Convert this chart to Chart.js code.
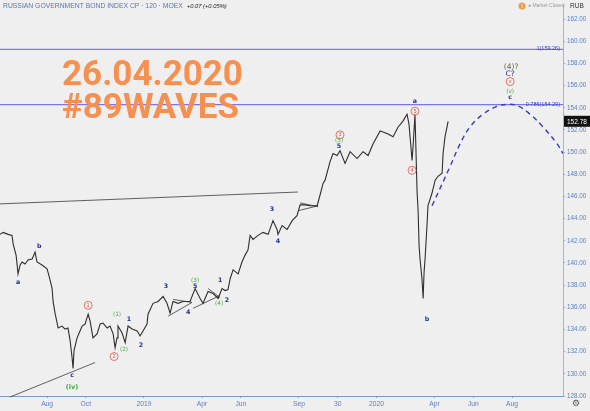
<!DOCTYPE html>
<html>
<head>
<meta charset="utf-8">
<script src="https://cdn.jsdelivr.net/npm/chart.js@4.4.1/dist/chart.umd.min.js"></script>
<style>
  html, body { margin: 0; padding: 0; background: #efeff0; }
  canvas { display: block; }
</style>
</head>
<body>
<canvas id="bondChart" width="590" height="411"></canvas>
<script>
// months counted from Aug 2018 (bar-time, as on the chart)
const months = [
  -2.43,-2.27,-2.01,-1.81,-1.75,-1.60,-1.55,-1.50,-1.39,-1.29,
  -1.14,-0.98,-0.77,-0.62,-0.52,-0.26,0,0.15,0.26,0.31,
  0.41,0.52,0.57,0.77,0.93,1.08,1.19,1.29,1.34,1.39,
  1.55,1.70,1.81,1.96,2.12,2.22,2.37,2.58,2.74,2.89,
  3.10,3.25,3.41,3.51,3.61,3.66,3.87,4.03,4.18,4.39,
  4.65,4.80,4.95,5.16,5.21,5.47,5.73,5.99,6.19,6.35,
  6.50,6.76,7.02,7.38,7.64,7.90,8.05,8.31,8.57,8.83,
  9.03,9.19,9.34,9.45,9.60,9.86,10.06,10.22,10.37,10.48,
  10.63,10.89,11.15,11.41,11.66,11.87,11.92,12.13,12.39,12.65,
  12.90,13.06,13.32,13.57,13.94,14.09,14.25,14.35,14.61,14.76,
  14.97,15.12,15.38,15.64,16.00,16.31,16.57,16.83,17.19,17.34,
  17.60,17.86,18.12,18.37,18.58,18.68,18.84,18.89,18.99,19.10,
  19.15,19.20,19.25,19.35,19.41,19.46,19.51,19.61,19.66,19.87,
  20.03,20.18,20.39,20.44,20.54,20.70
];
const prices = [
  142.58,142.76,142.58,142.49,141.69,140.71,139.91,139.02,139.82,140.09,
  139.91,140.27,140.36,140.98,140.09,139.82,139.47,138.49,137.69,136.53,
  135.47,134.58,134.13,134.31,134.04,134.13,132.98,131.47,130.49,132.09,
  133.24,133.87,134.31,134.49,135.38,134.76,133.24,133.60,134.49,134.58,
  134.13,134.31,133.60,132.36,133.24,134.31,133.69,132.80,134.31,134.04,
  133.87,133.42,133.87,134.49,135.38,136.36,136.53,136.98,136.36,135.47,
  136.53,136.36,136.53,136.53,137.69,136.80,136.36,137.42,137.24,136.80,
  137.69,137.51,137.60,138.58,139.38,139.02,140.09,140.71,141.16,142.49,
  142.13,142.49,142.76,142.58,143.82,143.02,142.58,143.38,143.02,143.82,
  144.27,145.24,145.24,145.16,145.16,146.13,147.20,147.47,149.16,149.87,
  149.69,150.13,148.98,150.04,149.42,150.04,149.69,150.76,151.91,151.82,
  151.64,151.38,152.27,152.80,153.42,152.53,149.24,150.49,153.40,146.31,
  144.80,141.60,140.36,138.58,136.80,139.20,140.36,143.38,145.16,146.31,
  147.47,147.82,148.09,149.87,151.38,152.78
];
const lastPrice = 152.78;

// projected path (dashed)
const projMonths = [19.87,20.8,21.32,21.83,22.5,23.23,23.74,24.26,24.93,25.6,26.32,26.63];
const projPrices = [145.16,148.7,150.76,152.27,153.42,154.13,154.3,154.2,153.42,152.27,150.76,149.87];

// fib levels
const fibLevels = [159.26, 154.29];
const fibLabels = ['1(159.26)', '0.786(154.29)'];

// axis ticks
const tickMonths = [0, 2, 5, 8, 10, 13, 15, 17, 20, 22, 24];
const tickLabels = ['Aug', 'Oct', '2019', 'Apr', 'Jun', 'Sep', '30', '2020', 'Apr', 'Jun', 'Aug'];
const priceTicks = [128,130,132,134,136,138,140,142,144,146,148,150,152,154,156,158,160,162];

// drawn trend lines: [m1, p1, m2, p2]
const trendLines = [
  [-2.43, 145.33, 12.95, 146.40],
  [-1.91, 127.91, 2.48, 131.02],
  [6.25, 135.20, 7.48, 136.44],
  [6.50, 136.71, 7.48, 136.44],
  [7.54, 135.91, 8.93, 137.07],
  [8.31, 137.69, 8.93, 136.89],
  [12.95, 144.71, 13.99, 145.16],
  [13.06, 145.42, 13.99, 145.07]
];

// wave labels: [text, month, price, kind]
const waveLabels = [
  ['a', -1.50, 138.22, 'n'], ['b', -0.41, 141.51, 'n'], ['c', 1.29, 129.87, 'n'],
  ['(iv)', 1.29, 128.80, 'g'],
  ['1', 2.12, 136.18, 'r'], ['2', 3.46, 131.56, 'r'],
  ['(1)', 3.61, 135.38, 'g'], ['(2)', 3.97, 132.18, 'g'],
  ['1', 4.23, 134.93, 'n'], ['2', 4.85, 132.53, 'n'], ['3', 6.14, 137.87, 'n'],
  ['4', 7.28, 135.56, 'n'], ['(3)', 7.64, 138.40, 'g'], ['5', 7.64, 137.87, 'n'],
  ['1', 8.93, 138.40, 'n'], ['(4)', 8.88, 136.36, 'g'], ['2', 9.29, 136.62, 'n'],
  ['3', 11.61, 144.80, 'n'], ['4', 11.92, 141.96, 'n'],
  ['3', 15.12, 151.56, 'r'], ['(5)', 15.07, 151.02, 'g'], ['5', 15.07, 150.49, 'n'],
  ['a', 18.99, 154.58, 'n'], ['5', 18.99, 153.69, 'r'], ['4', 18.84, 148.36, 'r'],
  ['b', 19.61, 134.93, 'n'],
  ['(4)?', 23.95, 157.69, 'o'], ['C?', 23.9, 157.07, 'n'], ['v', 23.9, 156.36, 'r'],
  ['(v)', 23.9, 155.47, 'g'], ['c', 23.9, 154.93, 'n']
];

const axisBlue = '#5b7dbf';
const labelColors = { n: '#25308f', g: '#3fae3a', r: '#e0524a', o: '#5c6b3c' };

const overlay = {
  id: 'overlay',
  beforeDatasetsDraw(chart) {
    const { ctx, chartArea: a, scales: { x, y } } = chart;
    ctx.save();
    // fib lines
    ctx.strokeStyle = 'rgb(120, 120, 235)';
    ctx.lineWidth = 1.2;
    fibLevels.forEach((lv) => {
      const py = y.getPixelForValue(lv);
      ctx.beginPath();
      ctx.moveTo(a.left, py);
      ctx.lineTo(a.right, py);
      ctx.stroke();
    });
    // trend lines
    ctx.strokeStyle = '#3a3a3a';
    ctx.lineWidth = 0.8;
    trendLines.forEach((t) => {
      ctx.beginPath();
      ctx.moveTo(x.getPixelForValue(t[0]), y.getPixelForValue(t[1]));
      ctx.lineTo(x.getPixelForValue(t[2]), y.getPixelForValue(t[3]));
      ctx.stroke();
    });
    ctx.restore();
  },
  afterDatasetsDraw(chart) {
    const { ctx, chartArea: a, scales: { x, y } } = chart;
    ctx.save();

    // fib labels
    ctx.font = '5.5px "Liberation Sans", sans-serif';
    ctx.fillStyle = '#3b3bb0';
    ctx.textAlign = 'right';
    ctx.textBaseline = 'middle';
    fibLevels.forEach((lv, i) => {
      ctx.fillText(fibLabels[i], a.right - 3, y.getPixelForValue(lv) - 0.5);
    });

    // wave labels
    ctx.textAlign = 'center';
    waveLabels.forEach(([txt, m, p, kind]) => {
      const px = x.getPixelForValue(m);
      const py = y.getPixelForValue(p);
      ctx.fillStyle = labelColors[kind];
      if (kind === 'r') {
        ctx.strokeStyle = labelColors.r;
        ctx.lineWidth = 0.8;
        ctx.beginPath();
        ctx.arc(px, py, 4, 0, Math.PI * 2);
        ctx.stroke();
        ctx.font = '5.5px "Liberation Sans", sans-serif';
      } else if (kind === 'o' || txt === 'C?') {
        ctx.font = '7.5px "DejaVu Sans", sans-serif';
      } else if (txt === '(iv)') {
        ctx.font = 'bold 6.5px "DejaVu Sans", sans-serif';
      } else {
        ctx.font = (kind === 'g' ? '5.8px' : 'bold 6.3px') + ' "DejaVu Sans", sans-serif';
      }
      ctx.fillText(txt, px, py);
    });

    // big title
    ctx.fillStyle = '#f78f4f';
    ctx.textAlign = 'left';
    ctx.textBaseline = 'alphabetic';
    ctx.font = 'bold 35px Roboto, sans-serif';
    ctx.fillText('26.04.2020', 62, 85);
    ctx.fillText('#89WAVES', 62, 118);

    // header
    ctx.font = '6.8px "Liberation Sans", sans-serif';
    ctx.fillStyle = '#5477b3';
    ctx.textBaseline = 'middle';
    const head = 'RUSSIAN GOVERNMENT BOND INDEX CP · 120 · MOEX';
    ctx.fillText(head, 3, 6);
    const hw = ctx.measureText(head).width;
    ctx.font = 'italic 5.8px "Liberation Sans", sans-serif';
    ctx.fillStyle = '#222';
    ctx.fillText('+0.07 (+0.05%)', 3 + hw + 4, 6.5);

    // market closed
    ctx.fillStyle = '#f59a4a';
    ctx.beginPath();
    ctx.arc(522, 6, 3.5, 0, Math.PI * 2);
    ctx.fill();
    ctx.fillStyle = '#fff';
    ctx.font = 'bold 5px "Liberation Sans", sans-serif';
    ctx.textAlign = 'center';
    ctx.fillText('!', 522, 6.3);
    ctx.textAlign = 'left';
    ctx.fillStyle = '#9a9a9a';
    ctx.font = '5px "Liberation Sans", sans-serif';
    ctx.fillText('\u25CF Market Closed', 528, 6);
    ctx.fillStyle = '#333';
    ctx.font = '6.5px "Liberation Sans", sans-serif';
    ctx.fillText('RUB', 570, 6);

    // last price tag
    const ly = y.getPixelForValue(lastPrice);
    ctx.fillStyle = '#111';
    ctx.fillRect(a.right + 1, ly - 5.5, 590 - a.right - 1, 11);
    ctx.fillStyle = '#fff';
    ctx.font = '6.5px "Liberation Sans", sans-serif';
    ctx.fillText(lastPrice.toFixed(2), a.right + 4, ly + 0.5);

    // settings gear
    ctx.fillStyle = '#555';
    ctx.font = '9px "DejaVu Sans", sans-serif';
    ctx.textAlign = 'center';
    ctx.fillText('\u2699', 576, 404);
    ctx.restore();
  }
};

new Chart(document.getElementById('bondChart'), {
  type: 'line',
  data: {
    datasets: [
      {
        data: months.map((m, i) => ({ x: m, y: prices[i] })),
        borderColor: '#2e2e2e',
        borderWidth: 1.1,
        pointRadius: 0,
        tension: 0
      },
      {
        data: projMonths.map((m, i) => ({ x: m, y: projPrices[i] })),
        borderColor: '#3838c0',
        borderWidth: 1.4,
        borderDash: [5, 4],
        pointRadius: 0,
        tension: 0.4
      }
    ]
  },
  options: {
    responsive: false,
    animation: false,
    devicePixelRatio: 1,
    layout: { padding: 0 },
    plugins: { legend: { display: false }, tooltip: { enabled: false } },
    scales: {
      x: {
        type: 'linear',
        min: -2.43,
        max: 26.63,
        afterBuildTicks: (s) => { s.ticks = tickMonths.map((v) => ({ value: v })); },
        afterFit: (s) => { s.height = 15; },
        grid: { drawOnChartArea: false, drawTicks: true, tickLength: 2, color: '#8fa6cc' },
        border: { color: '#7f98c4', width: 1 },
        ticks: {
          color: axisBlue,
          font: { size: 6.7, family: '"Liberation Sans", sans-serif' },
          autoSkip: false,
          maxRotation: 0,
          padding: 2,
          callback: (v, i) => tickLabels[i]
        }
      },
      y: {
        position: 'right',
        min: 128,
        max: 163.2,
        afterBuildTicks: (s) => { s.ticks = priceTicks.map((v) => ({ value: v })); },
        afterFit: (s) => { s.width = 27; },
        grid: { drawOnChartArea: false, drawTicks: true, tickLength: 2, color: '#8fa6cc' },
        border: { color: '#9fb4d6', width: 1 },
        ticks: {
          color: axisBlue,
          font: { size: 6.3, family: '"Liberation Sans", sans-serif' },
          padding: 2,
          callback: (v) => Number(v).toFixed(2)
        }
      }
    }
  },
  plugins: [overlay]
});
</script>
</body>
</html>
